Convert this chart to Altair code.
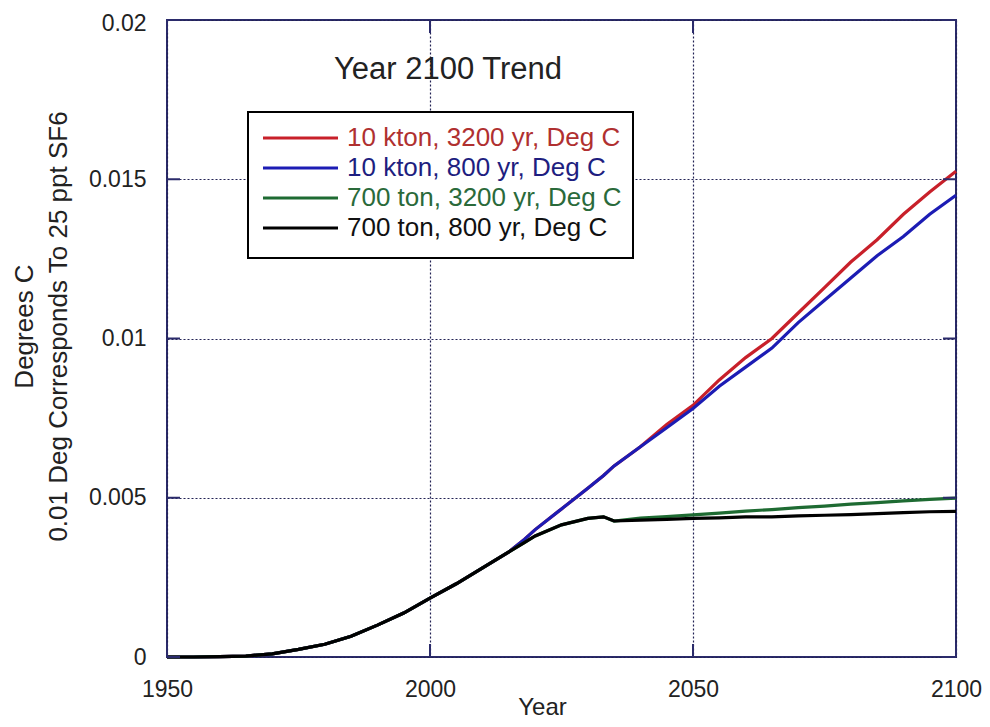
import altair as alt
import pandas as pd

# ---------------- data ----------------
years = [1950, 1955, 1960, 1965, 1970, 1975, 1980, 1985, 1990, 1995, 2000,
         2005, 2010, 2015, 2018, 2020, 2025, 2030, 2033, 2035, 2040, 2045,
         2050, 2055, 2060, 2065, 2070, 2075, 2080, 2085, 2090, 2095, 2100]

red_10kt_3200 = [0, 0, 0.00001, 0.00003, 0.0001, 0.00024, 0.0004, 0.00065, 0.001,
                 0.00138, 0.00185, 0.0023, 0.0028, 0.0033, 0.0037, 0.0040, 0.00465,
                 0.0053, 0.0057, 0.0060, 0.0066, 0.0073, 0.0079, 0.0087, 0.0094,
                 0.0100, 0.0108, 0.0116, 0.0124, 0.0131, 0.0139, 0.0146, 0.01525]

blue_10kt_800 = [0, 0, 0.00001, 0.00003, 0.0001, 0.00024, 0.0004, 0.00065, 0.001,
                 0.00138, 0.00185, 0.0023, 0.0028, 0.0033, 0.0037, 0.0040, 0.00465,
                 0.0053, 0.0057, 0.0060, 0.0066, 0.0072, 0.0078, 0.0085, 0.0091,
                 0.0097, 0.0105, 0.0112, 0.0119, 0.0126, 0.0132, 0.0139, 0.0145]

green_700t_3200 = [0, 0, 0.00001, 0.00003, 0.0001, 0.00024, 0.0004, 0.00065, 0.001,
                   0.00138, 0.00185, 0.0023, 0.0028, 0.0033, 0.0036, 0.0038, 0.00415,
                   0.00435, 0.0044, 0.00427, 0.00436, 0.00441, 0.00446, 0.00452,
                   0.00458, 0.00463, 0.00469, 0.00474, 0.0048, 0.00485, 0.0049,
                   0.00495, 0.00499]

black_700t_800 = [0, 0, 0.00001, 0.00003, 0.0001, 0.00024, 0.0004, 0.00065, 0.001,
                  0.00138, 0.00185, 0.0023, 0.0028, 0.0033, 0.0036, 0.0038, 0.00415,
                  0.00435, 0.0044, 0.00427, 0.0043, 0.00432, 0.00435, 0.00437,
                  0.0044, 0.0044, 0.00443, 0.00445, 0.00447, 0.0045, 0.00453,
                  0.00456, 0.00457]

series_names = ["10 kton, 3200 yr, Deg C", "10 kton, 800 yr, Deg C",
                "700 ton, 3200 yr, Deg C", "700 ton, 800 yr, Deg C"]
series_values = [red_10kt_3200, blue_10kt_800, green_700t_3200, black_700t_800]
line_colors = ["#c8202a", "#1c1cb4", "#1e6b32", "#000000"]
label_colors = ["#b03030", "#1e1e80", "#2a6a3a", "#111111"]

x_ticks = [1950, 2000, 2050, 2100]
y_ticks = [0, 0.005, 0.01, 0.015, 0.02]

chart_title = "Year 2100 Trend"
x_title = "Year"
y_title = ["Degrees C", "0.01 Deg Corresponds To 25 ppt SF6"]

# ---------------- build tables ----------------
rows = []
for name, vals in zip(series_names, series_values):
    for yr, v in zip(years, vals):
        rows.append({"Year": yr, "Value": v, "Series": name})
df = pd.DataFrame(rows)

W, H = 789, 637
FONT = "Liberation Sans"
NAVY = "#2b2b6b"
GRID = "#222255"
TXT = "#222222"

xenc = alt.X(
    "Year:Q",
    scale=alt.Scale(domain=[1950, 2100], nice=False, zero=False),
    axis=alt.Axis(
        values=x_ticks, format="d", labelFontSize=23, labelColor=TXT,
        labelFont=FONT, labelPadding=21, labelFlush=False, ticks=False,
        tickSize=0, domain=False, grid=True, gridDash=[2, 2],
        gridColor=GRID, gridWidth=1.2, title=x_title, titleFontSize=24,
        titleFont=FONT, titleColor=TXT, titleFontWeight="normal",
        titleX=375, titleY=57, titleBaseline="alphabetic", titleAlign="center",
    ),
)
yenc = alt.Y(
    "Value:Q",
    scale=alt.Scale(domain=[0, 0.02], nice=False),
    axis=alt.Axis(
        values=y_ticks, format="~g", labelFontSize=23, labelColor=TXT,
        labelFont=FONT, labelPadding=21, labelFlush=False, ticks=False,
        labelOffset={"condition": {"test": "datum.value >= 0.02", "value": 3}, "value": 0},
        tickSize=0, domain=False, grid=True, gridDash=[2, 2],
        gridColor=GRID, gridWidth=1.2, title=y_title, titleFontSize=26,
        titleFont=FONT, titleColor=TXT, titleFontWeight="normal",
        titleAngle=270, titleX=-156, titleY=306, titleBaseline="top",
        titleAlign="center", titleLineHeight=34,
    ),
)

lines = alt.Chart(df).mark_line(strokeWidth=3.2).encode(
    x=xenc, y=yenc,
    color=alt.Color("Series:N", scale=alt.Scale(domain=series_names, range=line_colors),
                    legend=None),
)

# inside ticks on all four sides
xt = pd.DataFrame({"Year": x_ticks})
yt = pd.DataFrame({"Value": y_ticks})
tick_style = dict(color=NAVY, strokeWidth=2)
xt_bottom = alt.Chart(xt).mark_rule(**tick_style).encode(x=xenc, y=alt.value(H), y2=alt.value(H - 13))
xt_top = alt.Chart(xt).mark_rule(**tick_style).encode(x=xenc, y=alt.value(0), y2=alt.value(13))
yt_left = alt.Chart(yt).mark_rule(**tick_style).encode(y=yenc, x=alt.value(0), x2=alt.value(13))
yt_right = alt.Chart(yt).mark_rule(**tick_style).encode(y=yenc, x=alt.value(W - 13), x2=alt.value(W))

one = pd.DataFrame({"t": [chart_title]})
title_layer = alt.Chart(one).mark_text(
    font=FONT, fontSize=31, color=TXT, align="center", baseline="middle"
).encode(text="t:N", x=alt.value(281), y=alt.value(50))

# legend box (manual, to get the coloured labels)
legend_box = alt.Chart(one).mark_rect(fill="white", stroke="black", strokeWidth=2).encode(
    x=alt.value(81), x2=alt.value(466), y=alt.value(92), y2=alt.value(238)
)
legend_layers = [legend_box]
row_y = [118, 148, 178, 208]
for name, lc, tc, ry in zip(series_names, line_colors, label_colors, row_y):
    d = pd.DataFrame({"t": [name]})
    legend_layers.append(
        alt.Chart(d).mark_rule(color=lc, strokeWidth=3.2).encode(
            x=alt.value(96), x2=alt.value(171), y=alt.value(ry))
    )
    legend_layers.append(
        alt.Chart(d).mark_text(font=FONT, fontSize=26, color=tc, align="left",
                               baseline="middle").encode(
            text="t:N", x=alt.value(180), y=alt.value(ry))
    )

chart = alt.layer(
    lines, xt_bottom, xt_top, yt_left, yt_right, title_layer, *legend_layers
).properties(
    width=W, height=H,
    autosize=alt.AutoSizeParams(type="none"),
    padding={"left": 159, "top": 12, "right": 26, "bottom": 62},
    background="white",
).configure_view(stroke=NAVY, strokeWidth=2)

chart.save("out.html", embed_options={"renderer": "svg", "actions": False})
